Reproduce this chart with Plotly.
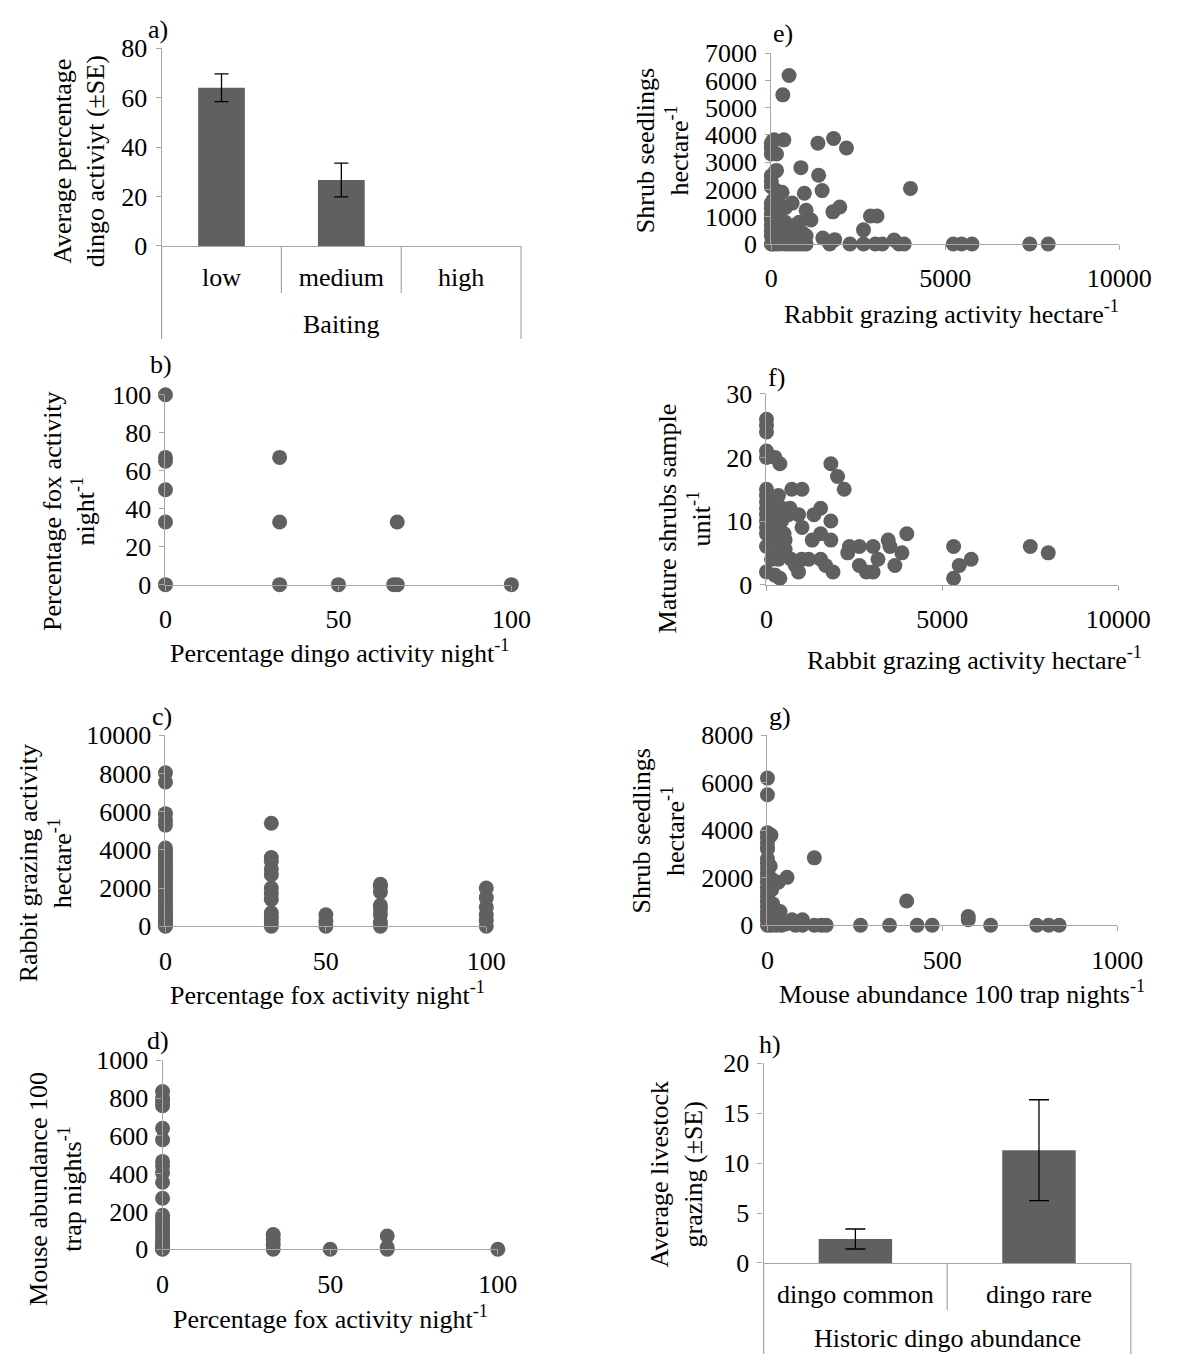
import plotly.graph_objects as go

W, H = 1186, 1369

# ---------------- data ----------------
# a) Baiting vs dingo activity
baiting_levels = ["low", "medium", "high"]
dingo_activity_mean = [64.0, 26.7, None]
dingo_activity_se = [5.6, 6.8, None]

# b) dingo activity (x) vs fox activity (y)
b_dingo = [0, 0, 0, 0, 0, 0, 33, 33, 33, 50, 66, 67, 67, 100]
b_fox = [100, 67, 65, 50, 33, 0, 67, 33, 0, 0, 0, 0, 33, 0]

# c) fox activity (x) vs rabbit grazing (y)
c_fox = ([0] * 37 + [33] * 12 + [50] * 3 + [67] * 8 + [100] * 6)
c_rabbit = ([8040, 7560, 5900, 5560, 5300, 4100, 3950, 3800, 3650, 3500, 3350, 3200,
             3050, 2900, 2750, 2600, 2450, 2300, 2150, 2000, 1850, 1700, 1550, 1400,
             1250, 1100, 950, 800, 700, 600, 500, 400, 300, 200, 120, 50, 0]
            + [5400, 3600, 3400, 3000, 2700, 2000, 1700, 1400, 700, 450, 200, 0]
            + [600, 250, 0]
            + [2200, 2100, 1800, 1100, 900, 600, 200, 0]
            + [2000, 1500, 1000, 600, 300, 0])

# d) fox activity (x) vs mouse abundance (y)
d_fox = ([0] * 24 + [33] * 4 + [50] + [67] * 3 + [100])
d_mouse = ([835, 800, 780, 760, 640, 580, 465, 440, 405, 355, 270,
            180, 160, 140, 120, 100, 80, 60, 40, 25, 15, 8, 3, 0]
           + [78, 52, 25, 0] + [0] + [70, 10, 0] + [0])

# e) rabbit grazing (x) vs shrub seedlings (y)
e_rabbit = [0, 50, 100, 150, 200, 250, 300, 400, 450, 500, 550, 600, 650, 700, 750, 800, 850, 900, 950, 1000,
            0, 0, 0, 0, 0, 0, 0, 0, 0, 0, 0, 0, 0, 50,
            120, 150, 80, 360, 510, 330,
            850, 1340, 1790, 2160, 1360, 1460, 4000,
            310, 950, 600, 410, 1000, 1140, 1770, 1970, 2850, 3040, 2650,
            200, 300, 400, 500, 600, 700, 800, 900, 1000, 100, 200, 250, 700, 800,
            1480, 1680, 1820, 2260, 2650, 2990, 3190, 3530, 3670, 3820, 5230, 5470, 5770, 7430, 7960,
            100, 200, 50, 150]
e_seedlings = [0, 0, 100, 0, 200, 0, 100, 0, 200, 0, 100, 0, 300, 0, 100, 0, 200, 0, 100, 0,
               300, 500, 700, 900, 1100, 1300, 1500, 2100, 2300, 2500, 3300, 3500, 3700, 3800,
               2680, 3300, 3820, 3820, 6180, 5470,
               2800, 3700, 3870, 3520, 2520, 1960, 2040,
               1900, 1860, 1500, 1340, 1240, 880, 1180, 1360, 1030, 1030, 520,
               700, 500, 800, 600, 400, 700, 500, 400, 300, 1000, 1200, 400, 300, 800,
               220, 0, 160, 0, 0, 0, 0, 150, 0, 0, 0, 0, 0, 0, 0,
               2000, 1700, 1600, 2700]

# f) rabbit grazing (x) vs mature shrubs (y)
f_rabbit = [0] * 15 + [240, 380, 340, 720, 1010, 670, 910, 1010, 1350, 1540, 1830, 1830, 2020, 2210,
                       1300, 1540, 1830, 2360, 2640, 3030, 2310, 3460, 3510, 3850, 3990, 3170, 3650,
                       2640, 2840, 3030, 5320, 5320, 5480, 5820, 7500, 8010, 140, 340, 240, 380,
                       820, 910, 1200, 1540, 1680, 1890, 530, 530, 240, 240, 430, 500, 620, 450,
                       200, 100, 300, 700, 1000, 150, 350]
f_mature = [26, 25, 24, 21, 20, 15, 14, 13, 12, 11, 10, 9, 8, 6, 2] + [20, 19, 14, 15, 15, 12, 11, 9, 11, 12, 10, 19, 17, 15,
                                                                       7, 8, 7, 6, 6, 6, 5, 7, 6, 5, 8, 4, 3,
                                                                       3, 2, 2, 6, 1, 3, 4, 6, 5, 4, 4, 1.5, 1,
                                                                       3, 2, 4, 4, 3, 2, 5.5, 7, 9, 11, 10, 8, 11, 12,
                                                                       13, 7, 6, 4, 4, 10, 8]

# g) mouse abundance (x) vs shrub seedlings (y)
g_mouse = ([0] * 22 + [10, 8, 12, 15, 5, 20, 10, 25, 30,
                       134, 56, 31, 12, 398, 574, 574, 36, 31, 70, 100, 134, 154, 168, 266, 349,
                       428, 471, 638, 770, 804, 834, 40, 60, 80, 100, 50])
g_seedlings = ([6200, 5500, 3900, 3700, 3500, 3300, 3200, 2800, 2600, 2400, 2200, 2000, 1800, 1600,
                1400, 1200, 1000, 800, 600, 400, 200, 0]
               + [3800, 2500, 1500, 900, 500, 100, 0, 0, 200,
                  2840, 2020, 1810, 1950, 1020, 370, 230, 580, 300, 230, 230, 0, 0, 0, 0, 0,
                  0, 0, 0, 0, 0, 0, 0, 100, 0, 0, 50])

# h) Historic dingo abundance vs livestock grazing
history_levels = ["dingo common", "dingo rare"]
livestock_mean = [2.4, 11.3]
livestock_se = [1.0, 5.05]

# ---------------- styling ----------------
FONT = "Liberation Serif"
FS = 26
DARK = "#606060"
AXC = "#a6a6a6"


def px_x(p):
    return p / W


def px_y(p):
    return 1 - p / H


fig = go.Figure()

# panel geometry in pixels: (left, right, top, bottom)
panels = {
    "a": (160, 532, 35, 237),
    "b": (164, 522, 389, 583),
    "c": (164, 496, 737, 932),
    "d": (161, 508, 1069, 1262),
    "e": (791, 1151, 40, 235),
    "f": (786, 1150, 388, 583),
    "g": (787, 1149, 737, 931),
    "h": (783, 1163, 1072, 1276),
}
order = ["a", "b", "c", "d", "e", "f", "g", "h"]

layout = dict(
    width=W, height=H,
    margin=dict(l=0, r=0, t=0, b=0),
    paper_bgcolor="white", plot_bgcolor="white",
    showlegend=False,
    font=dict(family=FONT, size=FS, color="black"),
)

base_axis = dict(
    showline=True, linecolor=AXC, linewidth=1.2,
    ticks="outside", ticklen=5, tickcolor=AXC, tickwidth=1.2,
    showgrid=False, zeroline=False,
    tickfont=dict(family=FONT, size=FS, color="black"),
)

yranges = {"a": (0, 80, 20), "b": (0, 100, 20), "c": (0, 10000, 2000), "d": (0, 1000, 200),
           "e": (0, 7000, 1000), "f": (0, 30, 10), "g": (0, 8000, 2000), "h": (0, 20, 5)}
xranges = {"b": (0, 100, 50), "c": (0, 100, 50), "d": (0, 100, 50),
           "e": (0, 10000, 5000), "f": (0, 10000, 5000), "g": (0, 1000, 500)}

for i, k in enumerate(order):
    n = "" if i == 0 else str(i + 1)
    l, r, t, b = panels[k]
    xa = dict(base_axis, domain=[px_x(l), px_x(r)], anchor="y" + n)
    ya = dict(base_axis, domain=[px_y(b), px_y(t)], anchor="x" + n)
    y0, y1, dy = yranges[k]
    ya.update(range=[y0, y1], dtick=dy, tick0=0, tickformat="d", ticklabelstandoff=3)
    if k in xranges:
        x0, x1, dx = xranges[k]
        xa.update(range=[x0, x1], dtick=dx, tick0=0, tickformat="d", ticklabelstandoff=6)
    else:
        ncat = 3 if k == "a" else 2
        xa.update(range=[-0.5, ncat - 0.5], ticks="", type="category", ticklabelstandoff=8)
    layout["xaxis" + n] = xa
    layout["yaxis" + n] = ya

fig.update_layout(**layout)

# bars
fig.add_trace(go.Bar(x=baiting_levels, y=dingo_activity_mean, width=0.39,
                     marker=dict(color=DARK, line=dict(width=0)),
                     error_y=dict(type="data", array=dingo_activity_se, color="black",
                                  thickness=1.3, width=7),
                     xaxis="x", yaxis="y"))
fig.add_trace(go.Bar(x=history_levels, y=livestock_mean, width=0.4,
                     marker=dict(color=DARK, line=dict(width=0)),
                     error_y=dict(type="data", array=livestock_se, color="black",
                                  thickness=1.3, width=10),
                     xaxis="x8", yaxis="y8"))

scatter_sets = [("b", b_dingo, b_fox, 2), ("c", c_fox, c_rabbit, 3), ("d", d_fox, d_mouse, 4),
                ("e", e_rabbit, e_seedlings, 5), ("f", f_rabbit, f_mature, 6),
                ("g", g_mouse, g_seedlings, 7)]
for k, xs, ys, idx in scatter_sets:
    fig.add_trace(go.Scatter(x=xs, y=ys, mode="markers", cliponaxis=False,
                             marker=dict(color=DARK, size=15, line=dict(width=0)),
                             xaxis="x" + str(idx), yaxis="y" + str(idx)))

# category axis frames (Excel style multi-level)
shapes = []


def vline(xref, xd, ytop, ybot):
    shapes.append(dict(type="line", xref=xref, yref="paper", x0=xd, x1=xd,
                       y0=px_y(ytop), y1=px_y(ybot), line=dict(color=AXC, width=1.2)))


vline("x domain", 0, 237, 332)
vline("x domain", 1, 237, 332)
vline("x domain", 1 / 3, 237, 285)
vline("x domain", 2 / 3, 237, 285)
vline("x8 domain", 0, 1276, 1369)
vline("x8 domain", 1, 1276, 1369)
vline("x8 domain", 0.5, 1276, 1324)
fig.update_layout(shapes=shapes)

ann = []


def text(x, y, s, angle=0, size=FS, xanchor="center"):
    ann.append(dict(x=px_x(x), y=px_y(y), xref="paper", yref="paper", text=s,
                    showarrow=False, textangle=angle, xanchor=xanchor, yanchor="middle",
                    font=dict(family=FONT, size=size, color="black")))


SUP = "<sup>-1</sup>"
# panel labels
for lab, (x, y) in {"a)": (156, 16), "b)": (159, 358), "c)": (160, 718), "d)": (156, 1049),
                    "e)": (803, 20), "f)": (796, 371), "g)": (800, 718), "h)": (790, 1053)}.items():
    text(x, y, lab)

# y titles
text(75, 150, "Average percentage<br>dingo activiyt (±SE)", -90)
text(64, 508, "Percentage fox activity<br>night" + SUP, -90)
text(40, 868, "Rabbit grazing activity<br>hectare" + SUP, -90)
text(50, 1200, "Mouse abundance 100<br>trap nights" + SUP, -90)
text(678, 140, "Shrub seedlings<br>hectare" + SUP, -90)
text(701, 515, "Mature shrubs sample<br>unit" + SUP, -90)
text(674, 835, "Shrub seedlings<br>hectare" + SUP, -90)
text(693, 1185, "Average livestock<br>grazing (±SE)", -90)

# x titles
text(346, 317, "Baiting")
text(344, 651, "Percentage dingo activity night" + SUP)
text(332, 1001, "Percentage fox activity night" + SUP)
text(335, 1332, "Percentage fox activity night" + SUP)
text(977, 305, "Rabbit grazing activity hectare" + SUP)
text(1001, 658, "Rabbit grazing activity hectare" + SUP)
text(988, 1000, "Mouse abundance 100 trap nights" + SUP)
text(973, 1353, "Historic dingo abundance")

fig.update_layout(annotations=ann)

fig.write_html("out.html")
